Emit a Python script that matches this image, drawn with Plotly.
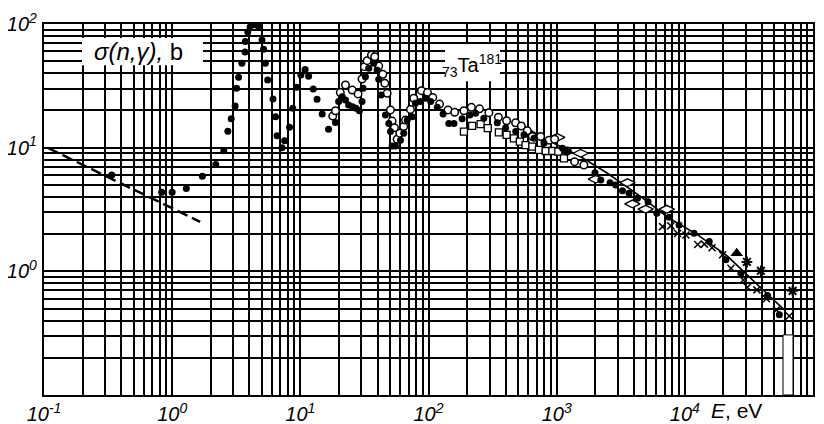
import plotly.graph_objects as go

# ---- data (E in eV, sigma in barns) ----
fc_E = [0.338, 0.828, 1.00, 1.29, 1.72, 2.19, 2.53, 2.72, 2.89, 3.10, 3.18, 3.30, 3.50, 3.70, 3.72,
        3.89, 4.06, 4.30, 4.53, 4.74, 5.02, 5.17, 5.33, 5.56, 6.12, 6.41, 6.58, 7.19, 7.54, 8.24,
        8.73, 9.35, 10.1, 10.9, 11.6, 12.6, 13.5, 14.8, 16.6, 18.8, 19.9, 21.2, 22.5, 23.8, 25.6,
        27.2, 28.9, 30.3, 30.9, 32.2, 34.2, 37.4, 39.7, 40.9, 42.7, 46.1, 49.0, 50.5, 52.0, 55.2,
        60.4, 64.1, 68.2, 74.6, 79.1, 86.6, 94.8, 104, 117, 130, 144, 158, 183, 210, 233,
        270, 344, 400, 479, 556, 665, 796, 1110, 1210, 1990, 2210, 2610, 2890, 3260, 3670,
        4270, 5170, 6040, 7540, 9020, 11800, 15500, 20900, 27400, 44200, 54600]
fc_S = [6.02, 4.36, 4.35, 4.68, 5.87, 7.32, 9.46, 13.6, 17.1, 21.7, 30.2, 37.1, 48.1, 59.4, 72.2,
        86.1, 94.6, 99.0, 99.0, 94.6, 74.3, 62.4, 48.1, 35.2, 24.8, 17.8, 12.5, 10.0, 11.4, 14.6,
        20.8, 30.8, 38.7, 42.8, 37.8, 29.8, 24.6, 18.7, 14.1, 16.0, 23.6, 25.8, 24.3, 22.1, 21.4,
        20.8, 19.9, 23.6, 30.2, 37.5, 43.8, 48.1, 42.5, 35.7, 26.7, 18.4, 15.7, 13.5, 10.3, 10.3,
        11.5, 13.1, 16.7, 17.8, 22.9, 23.6, 25.1, 23.6, 21.2, 18.7, 15.7, 15.7, 17.1, 18.4, 19.0,
        17.3, 15.9, 14.5, 13.5, 12.7, 11.9, 10.9, 9.89, 9.29, 6.28, 5.48, 5.21, 4.99, 4.49, 4.27,
        3.90, 3.66, 2.95, 2.74, 2.37, 2.03, 1.74, 1.24, 0.965, 0.637, 0.445]

oc_E = [17.9, 18.8, 20.5, 22.5, 25.4, 28.2, 30.3, 31.6, 33.2, 35.9, 38.0, 40.9, 44.0, 45.6, 47.6,
        50.5, 52.0, 54.2, 56.9, 59.7, 64.1, 66.1, 72.3, 76.7, 88.1, 98.2, 108, 122, 142, 160,
        189, 216, 250, 296, 351, 407, 478, 530, 590, 646, 750, 871, 964, 1210, 1380, 1630]
oc_S = [18.0, 19.9, 27.9, 32.1, 29.2, 27.2, 35.9, 45.2, 50.5, 56.1, 54.4, 45.7, 39.2, 33.2, 27.5,
        20.2, 16.4, 14.5, 11.7, 13.1, 14.8, 16.7, 20.4, 25.1, 28.9, 27.9, 25.5, 22.5, 20.2, 19.3,
        19.9, 21.2, 20.6, 19.2, 17.6, 16.5, 15.9, 15.0, 13.7, 12.3, 12.3, 11.5, 11.7, 9.40, 7.71, 7.24]

sq_E = [189, 219, 255, 290, 354, 407, 464, 516, 572, 646, 727, 821, 925, 1030, 1140]
sq_S = [13.5, 15.0, 15.5, 14.4, 13.3, 12.7, 11.9, 11.2, 10.5, 10.2, 9.58, 9.40, 9.40, 9.29, 8.20]

dm_E = [1010, 1540, 2020, 3570, 3900, 4950, 7230]
dm_S = [12.1, 9.02, 5.56, 5.21, 3.51, 3.18, 3.18]

xx_E = [6700, 7780, 8780, 10200, 12600, 14200, 16300, 19700, 22900, 28600, 30800, 36500, 43300, 51900, 65300]
xx_S = [2.30, 2.33, 2.02, 1.97, 1.65, 1.66, 1.55, 1.36, 1.06, 0.851, 0.743, 0.708, 0.600, 0.488, 0.436]

st_E = [30500, 39200, 69300]
st_S = [1.19, 1.01, 0.695]

tr_E = [25400]
tr_S = [1.40]

fit_E = [523, 750, 1540, 2490, 4530, 7500, 12600, 21600, 37000, 59700]
fit_S = [15.5, 12.3, 8.45, 6.21, 4.02, 2.70, 1.97, 1.32, 0.776, 0.488]

dash_E = [0.1075, 1.654]
dash_S = [9.94, 2.51]

x_decades = [-1, 0, 1, 2, 3, 4, 5]
y_decades = [-1, 0, 1, 2]
x_labeled = [-1, 0, 1, 2, 3, 4]
y_labeled = [0, 1, 2]

assert len(fc_E) == len(fc_S) and len(oc_E) == len(oc_S) and len(sq_E) == len(sq_S)
assert len(xx_E) == len(xx_S) and len(fit_E) == len(fit_S)


def minor_vals(decades):
    return [d * 10.0 ** k for k in decades[:-1] for d in range(2, 10)]


def major(decades, labeled):
    vals = [10.0 ** k for k in decades]
    texts = ["<i>10<sup>%d</sup></i>" % k if k in labeled else " " for k in decades]
    return vals, texts


xv, xt = major(x_decades, x_labeled)
yv, yt = major(y_decades, y_labeled)

fig = go.Figure()
fig.add_trace(go.Scatter(x=dash_E, y=dash_S, mode="lines",
                         line=dict(color="black", width=2.5, dash="11px,5px")))
fig.add_trace(go.Scatter(x=fit_E, y=fit_S, mode="lines", line=dict(color="black", width=1.6)))
fig.add_trace(go.Scatter(x=sq_E, y=sq_S, mode="markers",
                         marker=dict(symbol="square", size=7, color="white",
                                     line=dict(color="black", width=1.3))))
fig.add_trace(go.Scatter(x=dm_E, y=dm_S, mode="markers",
                         marker=dict(symbol="diamond-wide", size=11, color="white",
                                     line=dict(color="black", width=1.3))))
fig.add_trace(go.Scatter(x=oc_E, y=oc_S, mode="markers",
                         marker=dict(symbol="circle", size=7.5, color="white",
                                     line=dict(color="black", width=1.5))))
fig.add_trace(go.Scatter(x=fc_E, y=fc_S, mode="markers",
                         marker=dict(symbol="circle", size=7, color="black")))
fig.add_trace(go.Scatter(x=xx_E, y=xx_S, mode="markers",
                         marker=dict(symbol="x-thin-open", size=7, color="black",
                                     line=dict(color="black", width=1.5))))
fig.add_trace(go.Scatter(x=st_E, y=st_S, mode="markers",
                         marker=dict(symbol="asterisk-open", size=9, color="black",
                                     line=dict(color="black", width=2))))
fig.add_trace(go.Scatter(x=tr_E, y=tr_S, mode="markers",
                         marker=dict(symbol="triangle-up", size=11, color="black")))

tickfont = dict(family="Liberation Sans Narrow, Liberation Sans, Arial", size=20, color="black")
grid = dict(showgrid=True, gridcolor="black", gridwidth=1.5)
fig.update_xaxes(type="log", range=[-1, 5], tickmode="array", tickvals=xv, ticktext=xt,
                 zeroline=False, showline=True, linecolor="black", linewidth=2.2, mirror=True,
                 ticks="", tickfont=tickfont, ticklabelstandoff=0, automargin=False,
                 minor=dict(tickmode="array", tickvals=minor_vals(x_decades), ticks="", **grid),
                 **grid)
fig.update_yaxes(type="log", range=[-1, 2], tickmode="array", tickvals=yv, ticktext=yt,
                 zeroline=False, showline=True, linecolor="black", linewidth=2.2, mirror=True,
                 ticks="", tickfont=tickfont, ticklabelstandoff=1, automargin=False,
                 minor=dict(tickmode="array", tickvals=minor_vals(y_decades), ticks="", **grid),
                 **grid)

# the page body adds an 8px offset, so the figure is 8px smaller and the margins are shifted
fig.update_layout(
    width=816, height=416,
    margin=dict(l=36, r=11, t=16, b=29, autoexpand=False),
    paper_bgcolor="white", plot_bgcolor="white",
    showlegend=False,
    annotations=[
        dict(xref="paper", yref="paper", x=0.123, y=0.925, xanchor="center", yanchor="middle",
             showarrow=False, text="<i>σ(n,γ),</i> b",
             font=dict(family="Liberation Sans, Arial", size=24, color="black")),
        dict(xref="paper", yref="paper", x=0.557, y=0.888, xanchor="center", yanchor="middle",
             showarrow=False, text="<sub>73</sub>Ta<sup>181</sup>",
             font=dict(family="Liberation Sans Narrow, Liberation Sans, Arial", size=20, color="black")),
        dict(xref="paper", yref="paper", x=0.901, y=-0.043, xanchor="center", yanchor="middle",
             showarrow=False, text="<i>E</i>, eV",
             font=dict(family="Liberation Sans Narrow, Liberation Sans, Arial", size=21, color="black")),
    ],
    shapes=[
        dict(type="rect", xref="paper", yref="paper", x0=0.0494, x1=0.2068, y0=0.889, y1=0.962,
             fillcolor="white", line=dict(width=0), layer="above"),
        dict(type="rect", xref="paper", yref="paper", x0=0.5215, x1=0.5930, y0=0.846, y1=0.946,
             fillcolor="white", line=dict(width=0), layer="above"),
        dict(type="rect", xref="paper", yref="paper", x0=0.961, x1=0.974, y0=0, y1=0.162,
             fillcolor="white", line=dict(color="black", width=1), layer="above"),
    ],
)

fig.write_html("out.html")
